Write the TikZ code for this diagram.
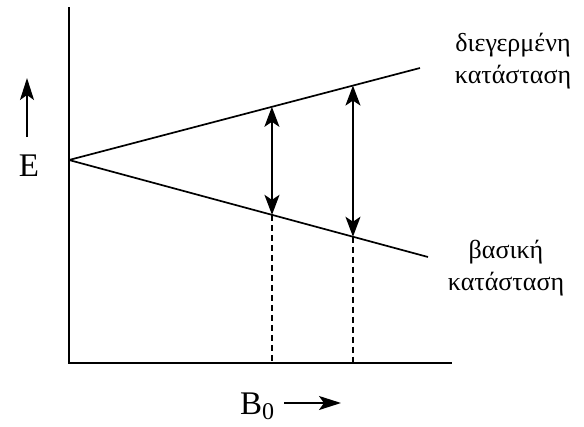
\documentclass[tikz,border=0pt]{standalone}
\usepackage{fontspec}
\setmainfont{Liberation Serif}
\newfontfamily\greekfont[Script=Greek]{Liberation Serif}
\usetikzlibrary{positioning, arrows.meta, calc}

\begin{document}
\begin{tikzpicture}[
  x=1pt, y=-1pt,
  axis/.style={line width=1.8pt},
  level/.style={line width=1.7pt},
  trans/.style={{Stealth[length=20pt, width=15pt, inset=5pt]}-{Stealth[length=20pt, width=15pt, inset=5pt]}, line width=1.8pt},
  guide/.style={dashed, dash pattern=on 6pt off 4pt, line width=1.5pt},
  dirarr/.style={-{Stealth[length=22pt, width=14pt, inset=5pt]}, line width=1.8pt},
  lbl/.style={font=\fontsize{33}{36}\selectfont, inner sep=0pt},
  state/.style={font=\greekfont\fontsize{26}{32}\selectfont, align=center, inner sep=0pt},
]
  \useasboundingbox (0,0) rectangle (584,426);

  % axes
  \coordinate (ytop) at (69,7);
  \coordinate (orig) at (69,363);
  \coordinate (xend) at (452,363);
  \draw[axis] (ytop) -- (orig) -- (xend);

  % energy levels
  \coordinate (split) at (69,160);
  \coordinate (upend) at (420,68);
  \coordinate (loend) at (428,257);
  \draw[level] (split) -- (upend);
  \draw[level] (split) -- (loend);

  % transitions
  \coordinate (a1) at ($(split)!0.578!(upend)$);
  \coordinate (b1) at ($(split)!0.5655!(loend)$);
  \coordinate (a2) at ($(split)!0.809!(upend)$);
  \coordinate (b2) at ($(split)!0.791!(loend)$);
  \draw[trans] (a1) -- (b1);
  \draw[trans] (a2) -- (b2);
  \draw[guide] (b1) -- (b1 |- orig);
  \draw[guide] (b2) -- (b2 |- orig);

  % labels
  \node[lbl] (elab) at (29,166) {E};
  \coordinate (eto) at (27,78);
  \draw[dirarr] (27,137) -- (eto);
  \node[lbl, anchor=base west] (blab) at (240,414) {B\raisebox{-5pt}{\fontsize{24}{24}\selectfont 0}};
  \coordinate (bto) at (341,403);
  \draw[dirarr] (blab.east |- bto) ++(10,0) -- (bto);

  \node[state] (exc) at (513,61) {διεγερμένη\\κατάσταση};
  \node[state] (gnd) at (506,268) {βασική\\κατάσταση};
\end{tikzpicture}
\end{document}
